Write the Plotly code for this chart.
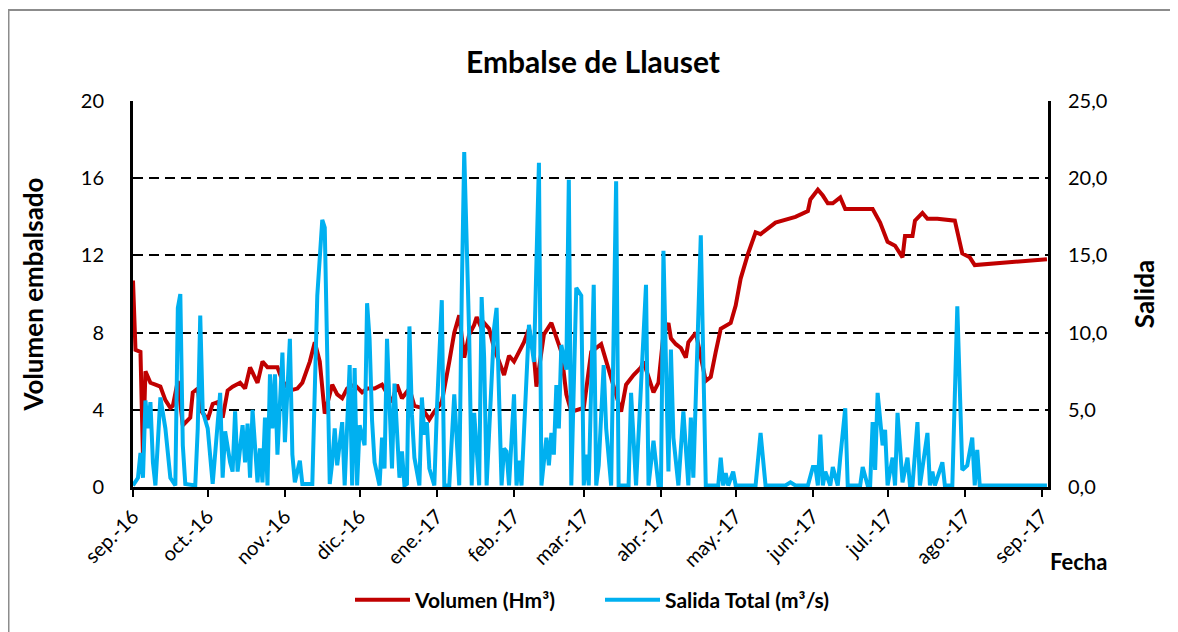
import pandas as pd
import plotly.graph_objects as go

start = pd.Timestamp("2016-09-01")

# Volumen embalsado (Hm3): day offset from 1-sep-2016, value
vol_day = [0,1,3,4,5,7,9,11,13,15,16,18,20,23,24,26,27,30,32,34,36,38,40,43,45,47,50,52,54,58,
           60,63,66,68,71,73,75,77,80,82,84,86,89,92,94,97,100,102,104,106,108,111,113,116,119,121,
           124,127,129,131,133,135,137,138,140,141,143,145,147,149,151,153,155,157,159,161,162,165,
           168,170,172,174,176,181,184,188,190,192,196,198,201,204,205,209,211,213,215,216,218,220,
           222,223,226,230,232,234,236,240,242,244,247,250,252,258,266,271,272,275,277,279,281,284,
           286,293,297,300,303,306,309,310,313,314,317,319,323,330,333,336,338,367]
vol_val = [10.7,7.1,7.0,1.6,6.0,5.4,5.3,5.2,4.5,4.1,4.2,5.5,3.2,3.6,4.9,5.1,4.0,3.5,4.3,4.4,3.6,5.0,
           5.2,5.4,5.1,6.2,5.4,6.5,6.2,6.2,5.5,5.0,5.1,5.4,6.5,7.5,6.5,3.8,5.3,4.8,4.6,5.1,5.3,4.9,
           5.1,5.1,5.3,4.8,4.4,5.3,4.6,5.1,4.2,4.1,3.5,3.9,4.4,6.5,8.0,8.9,6.7,7.9,8.4,8.8,8.2,8.5,
           8.2,7.2,6.5,5.8,6.8,6.5,7.0,7.5,8.2,6.8,5.2,7.9,8.5,7.7,7.0,4.8,3.9,4.1,7.0,7.4,6.5,5.6,
           3.9,5.3,5.8,6.2,6.5,4.9,5.4,7.9,8.5,7.7,7.4,7.2,6.7,7.5,8.0,5.5,5.7,7.0,8.2,8.5,9.4,10.8,
           12.1,13.2,13.1,13.7,14.0,14.3,14.9,15.4,15.1,14.7,14.7,15.0,14.4,14.4,14.4,13.7,12.7,12.5,
           11.9,13.0,13.0,13.8,14.2,13.9,13.9,13.8,12.1,11.9,11.5,11.8]

# Salida total (m3/s)
sal_day = [0,2,3,4,5,6,7,8,9,11,13,15,17,18,19,20,21,25,26,27,28,30,32,34,35,36,37,39,40,41,42,44,
           45,46,47,48,49,50,51,52,53,54,55,56,57,58,60,61,63,64,65,67,68,72,74,76,77,79,80,81,82,84,
           85,87,88,89,90,91,93,94,95,96,97,99,100,101,102,103,104,105,107,108,109,110,111,112,113,
           115,116,117,118,119,121,122,124,125,127,129,131,132,133,135,136,137,139,140,141,142,144,
           145,146,148,149,150,151,153,154,155,156,158,159,161,163,164,166,167,168,169,170,171,172,
           174,175,176,178,180,181,182,183,185,186,187,189,190,192,194,195,199,200,202,206,207,209,
           211,212,213,215,216,217,219,221,223,224,225,227,228,230,235,236,237,238,239,241,242,250,
           252,254,262,264,266,271,273,274,275,276,277,278,280,281,283,284,286,287,292,293,295,296,
           297,298,299,301,302,303,305,306,307,309,311,312,313,315,316,319,320,321,322,325,326,329,
           331,333,335,337,338,339,340,367]
sal_val = [0.1,0.6,2.2,0.6,5.6,3.8,5.5,1.6,0.1,5.8,3.8,0.6,0.1,11.6,12.5,2.7,0.2,0.1,3.8,11.1,4.9,
           3.8,0.2,3.8,6.1,0.6,3.6,1.6,1.0,4.9,1.0,4.0,1.6,4.1,0.6,5.0,2.5,0.3,2.5,0.3,4.5,0.1,7.3,
           3.8,7.3,2.1,8.7,2.9,9.6,2.1,0.3,1.7,0.2,0.2,12.4,17.3,16.8,0.2,1.6,3.8,1.4,4.2,0.1,7.9,
           0.1,7.7,0.1,4.0,2.7,11.9,9.6,4.3,1.6,0.1,3.2,1.2,9.6,5.1,1.2,6.7,0.6,2.3,0.1,0.2,10.4,
           4.7,1.9,0.1,5.8,3.4,4.2,1.2,0.1,4.9,12.1,0.1,0.1,6.0,0.1,12.4,21.7,9.8,0.1,4.8,0.1,12.3,
           8.4,0.1,7.4,10.3,11.6,0.1,2.5,2.3,0.1,6.0,0.1,1.7,0.1,8.1,10.5,8.1,21.0,0.1,3.2,1.4,3.5,
           2.1,6.6,3.8,9.2,7.6,19.9,0.1,12.9,12.4,0.1,2.1,0.1,13.1,0.1,1.4,7.9,3.8,0.1,19.8,0.1,0.1,
           6.1,0.1,13.1,0.1,3.0,0.1,0.1,15.3,1.0,8.9,3.2,0.1,4.9,0.1,4.5,0.6,10.3,16.3,0.1,0.1,1.9,
           0.1,0.9,0.1,1.0,0.1,0.1,3.5,0.1,0.1,0.3,0.1,0.1,1.3,1.3,0.1,3.4,0.1,1.0,0.1,1.3,0.1,1.9,
           5.1,0.1,0.1,1.3,0.1,0.1,4.2,1.1,6.1,2.7,3.7,0.1,1.9,0.1,4.8,0.3,1.9,0.1,0.1,4.2,0.1,3.5,
           0.1,1.0,0.1,1.6,0.1,0.1,11.7,1.1,1.4,3.2,0.1,2.4,0.1,0.1]

month_labels = ["sep.-16", "oct.-16", "nov.-16", "dic.-16", "ene.-17", "feb.-17", "mar.-17",
                "abr.-17", "may.-17", "jun.-17", "jul.-17", "ago.-17", "sep.-17"]
month_ticks = pd.date_range("2016-09-01", "2017-09-01", freq="MS")

vol_x = start + pd.to_timedelta(vol_day, unit="D")
sal_x = start + pd.to_timedelta(sal_day, unit="D")

FONT = "Lato"

fig = go.Figure()
fig.add_trace(go.Scatter(x=vol_x, y=vol_val, mode="lines", name="Volumen (Hm³)",
                         line=dict(color="#C00000", width=4)))
fig.add_trace(go.Scatter(x=sal_x, y=sal_val, mode="lines", name="Salida Total (m³/s)",
                         line=dict(color="#00B0F0", width=4), yaxis="y2"))

OFF = 8  # page body margin
W, H = 1170, 624
L, T = 125, 93
pw, ph = 915, 386
R, B = W - L - pw, H - T - ph

def px(x):
    return (x - OFF - L) / pw

def py(y):
    return (H - B - (y - OFF)) / ph

fig.update_layout(
    width=W, height=H,
    margin=dict(l=L, r=R, t=T, b=B),
    paper_bgcolor="white", plot_bgcolor="white",
    separators=",.",
    font=dict(family=FONT, size=20, color="black"),
    title=dict(text="<b>Embalse de Llauset</b>", x=0.5, xanchor="center",
               y=1 - (62 - OFF) / H, yanchor="middle",
               font=dict(family=FONT, size=30, color="black")),
    showlegend=True,
    legend=dict(orientation="h", x=px(600), xanchor="center", y=py(600), yanchor="middle",
                font=dict(family=FONT, size=21, color="black", weight="bold"),
                itemwidth=55, entrywidth=180, entrywidthmode="pixels",
                tracegroupgap=0, bgcolor="rgba(0,0,0,0)"),
    xaxis=dict(type="date", range=[start, pd.Timestamp("2017-09-03 10:00")],
               tickvals=month_ticks, ticktext=month_labels, tickangle=-45,
               ticks="outside", ticklen=7, tickwidth=2, tickcolor="black",
               showline=True, linecolor="black", linewidth=3, showgrid=False, zeroline=False,
               tickfont=dict(family=FONT, size=20, color="black")),
    yaxis=dict(range=[0, 20], dtick=4, tick0=0, showline=True, linecolor="black", linewidth=3,
               showgrid=True, gridcolor="black", gridwidth=2, griddash="10px,6px",
               zeroline=False, ticks="", ticklabelstandoff=22,
               tickfont=dict(family=FONT, size=20, color="black"),
               title=dict(text="<b>Volumen embalsado</b>", standoff=30,
                          font=dict(family=FONT, size=26, color="black"))),
    yaxis2=dict(range=[0, 25], dtick=5, tick0=0, tickformat=".1f", overlaying="y", side="right",
                showline=True, linecolor="black", linewidth=3, showgrid=False, zeroline=False,
                ticks="", ticklabelstandoff=13,
                tickfont=dict(family=FONT, size=20, color="black"),
                title=dict(text="<b>Salida</b>", standoff=30,
                           font=dict(family=FONT, size=26, color="black"))),
)

fig.add_annotation(text="<b>Fecha</b>", xref="paper", yref="paper", x=px(1078), y=py(561),
                   xanchor="center", yanchor="middle", showarrow=False,
                   font=dict(family=FONT, size=22, color="black"))

fig.add_shape(type="rect", xref="paper", yref="paper", x0=px(8.5), x1=px(1200), y0=py(660),
              y1=py(10), line=dict(color="#8c8c8c", width=2), fillcolor="rgba(0,0,0,0)",
              layer="below")

fig.write_html("out.html")
